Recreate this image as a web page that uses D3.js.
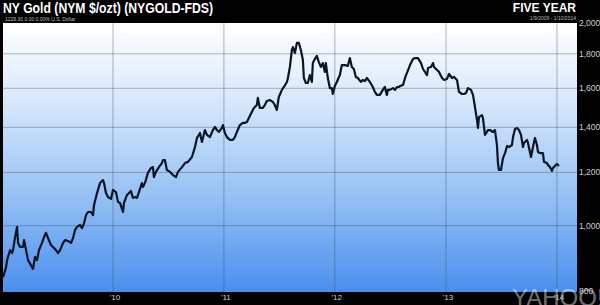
<!DOCTYPE html>
<html>
<head>
<meta charset="utf-8">
<script src="https://cdn.jsdelivr.net/npm/d3@7"></script>
<style>
  body { margin: 0; background: #000; }
  svg { display: block; }
  text { font-family: "Liberation Sans", Arial, sans-serif; }
</style>
</head>
<body>
<svg id="chart" width="600" height="305"></svg>
<script>
// Gold price, time as decimal years, price in $/ozt
const years = [
  2009.009, 2009.036, 2009.045, 2009.072, 2009.090, 2009.099, 2009.117, 2009.135, 2009.144, 2009.162,
  2009.189, 2009.198, 2009.216, 2009.234, 2009.270, 2009.279, 2009.297, 2009.315, 2009.333, 2009.360,
  2009.378, 2009.396, 2009.414, 2009.441, 2009.459, 2009.486, 2009.505, 2009.523, 2009.550, 2009.568,
  2009.595, 2009.622, 2009.640, 2009.658, 2009.676, 2009.703, 2009.721, 2009.739, 2009.757, 2009.775,
  2009.802, 2009.820, 2009.829, 2009.856, 2009.883, 2009.910, 2009.919, 2009.937, 2009.955, 2009.982,
  2010.000, 2010.027, 2010.045, 2010.063, 2010.090, 2010.099, 2010.126, 2010.144, 2010.162, 2010.180,
  2010.198, 2010.216, 2010.234, 2010.261, 2010.270, 2010.288, 2010.315, 2010.342, 2010.360, 2010.369,
  2010.387, 2010.414, 2010.441, 2010.450, 2010.468, 2010.486, 2010.514, 2010.541, 2010.568, 2010.586,
  2010.622, 2010.649, 2010.676, 2010.712, 2010.739, 2010.757, 2010.775, 2010.784, 2010.802, 2010.811,
  2010.829, 2010.847, 2010.874, 2010.901, 2010.919, 2010.937, 2010.955, 2010.982, 2010.991, 2011.009,
  2011.027, 2011.054, 2011.081, 2011.099, 2011.117, 2011.144, 2011.171, 2011.189, 2011.207, 2011.225,
  2011.252, 2011.270, 2011.297, 2011.306, 2011.324, 2011.351, 2011.369, 2011.387, 2011.414, 2011.441,
  2011.459, 2011.477, 2011.495, 2011.523, 2011.541, 2011.568, 2011.577, 2011.595, 2011.613, 2011.622,
  2011.640, 2011.658, 2011.676, 2011.694, 2011.712, 2011.721, 2011.739, 2011.757, 2011.775, 2011.793,
  2011.802, 2011.820, 2011.838, 2011.856, 2011.874, 2011.892, 2011.910, 2011.919, 2011.937, 2011.955,
  2011.973, 2011.982, 2012.000, 2012.018, 2012.045, 2012.063, 2012.090, 2012.117, 2012.135, 2012.153,
  2012.171, 2012.189, 2012.207, 2012.234, 2012.252, 2012.270, 2012.288, 2012.315, 2012.342, 2012.360,
  2012.378, 2012.405, 2012.432, 2012.450, 2012.468, 2012.477, 2012.495, 2012.523, 2012.541, 2012.559,
  2012.577, 2012.586, 2012.613, 2012.640, 2012.649, 2012.676, 2012.703, 2012.721, 2012.748, 2012.775,
  2012.793, 2012.829, 2012.838, 2012.865, 2012.883, 2012.892, 2012.919, 2012.937, 2012.964, 2012.982,
  2013.009, 2013.027, 2013.054, 2013.072, 2013.099, 2013.117, 2013.144, 2013.162, 2013.180, 2013.198,
  2013.225, 2013.243, 2013.261, 2013.279, 2013.288, 2013.297, 2013.324, 2013.333, 2013.351, 2013.369,
  2013.378, 2013.396, 2013.423, 2013.441, 2013.459, 2013.468, 2013.477, 2013.495, 2013.514, 2013.532,
  2013.550, 2013.568, 2013.595, 2013.604, 2013.622, 2013.640, 2013.658, 2013.676, 2013.694, 2013.703,
  2013.730, 2013.739, 2013.766, 2013.784, 2013.802, 2013.820, 2013.829, 2013.847, 2013.874, 2013.883,
  2013.910, 2013.919, 2013.937, 2013.955, 2013.964, 2013.982, 2014.000, 2014.018
];
const prices = [
  839, 868, 889, 920, 911, 920, 962, 996, 943, 930,
  930, 952, 920, 889, 868, 863, 899, 889, 920, 943,
  962, 976, 959, 936, 930, 920, 911, 920, 943, 952,
  949, 943, 959, 986, 996, 1003, 992, 1009, 1037, 1048,
  1048, 1037, 1074, 1118, 1157, 1169, 1157, 1118, 1103, 1096,
  1130, 1122, 1085, 1081, 1048, 1081, 1111, 1118, 1126, 1100,
  1103, 1100, 1122, 1157, 1142, 1157, 1198, 1218, 1222, 1181,
  1202, 1222, 1239, 1252, 1252, 1210, 1202, 1189, 1181, 1202,
  1222, 1239, 1244, 1265, 1309, 1350, 1364, 1373, 1332, 1350,
  1387, 1364, 1354, 1387, 1402, 1387, 1378, 1397, 1411, 1373,
  1354, 1341, 1341, 1354, 1378, 1411, 1421, 1421, 1426, 1445,
  1475, 1496, 1511, 1548, 1496, 1496, 1511, 1532, 1537, 1527,
  1511, 1485, 1553, 1591, 1607, 1635, 1657, 1721, 1824, 1842,
  1805, 1868, 1868, 1824, 1762, 1657, 1629, 1629, 1674, 1635,
  1744, 1768, 1787, 1750, 1721, 1744, 1692, 1744, 1657, 1601,
  1601, 1569, 1612, 1635, 1674, 1732, 1732, 1727, 1774, 1721,
  1709, 1663, 1657, 1635, 1646, 1640, 1657, 1635, 1607, 1580,
  1564, 1564, 1591, 1607, 1564, 1591, 1591, 1601, 1591, 1607,
  1607, 1612, 1618, 1674, 1686, 1732, 1768, 1774, 1774, 1744,
  1709, 1674, 1715, 1721, 1744, 1721, 1703, 1692, 1657, 1646,
  1652, 1680, 1657, 1663, 1646, 1580, 1569, 1569, 1574, 1601,
  1591, 1564, 1501, 1436, 1397, 1450, 1460, 1445, 1364, 1378,
  1387, 1387, 1378, 1387, 1318, 1239, 1210, 1210, 1261, 1282,
  1313, 1309, 1318, 1354, 1392, 1397, 1387, 1364, 1309, 1327,
  1341, 1327, 1265, 1309, 1350, 1318, 1287, 1282, 1282, 1244,
  1239, 1231, 1222, 1206, 1218, 1227, 1235, 1227
];
const yTicks = [800, 1000, 1200, 1400, 1600, 1800, 2000];
const xTickYears = [2010, 2011, 2012, 2013, 2014];

const svg = d3.select("#chart");

// decimal year -> Date
function yearToDate(y) {
    const yr = Math.floor(y);
    const start = new Date(yr, 0, 1), end = new Date(yr + 1, 0, 1);
    return new Date(+start + (y - yr) * (end - start));
}

const data = years.map((y, i) => ({ date: yearToDate(y), price: prices[i] }));

const plot = { left: 3, right: 577, top: 23, bottom: 292 };

const x = d3.scaleTime()
    .domain([new Date(2009, 0, 4), new Date(2014, 2, 8)])
    .range([plot.left, plot.right]);

const y = d3.scaleLog()
    .domain([800, 2000])
    .range([291, 23]);

// background gradient
const grad = svg.append("defs").append("linearGradient")
    .attr("id", "bg").attr("x1", 0).attr("y1", 0).attr("x2", 0).attr("y2", 1);
grad.append("stop").attr("offset", "0%").attr("stop-color", "#ffffff");
grad.append("stop").attr("offset", "30%").attr("stop-color", "#d6e7fb");
grad.append("stop").attr("offset", "65%").attr("stop-color", "#94c0f4");
grad.append("stop").attr("offset", "100%").attr("stop-color", "#4a8fee");

svg.append("rect")
    .attr("x", plot.left).attr("y", plot.top)
    .attr("width", plot.right - plot.left).attr("height", plot.bottom - plot.top)
    .attr("fill", "url(#bg)");

// grid lines
svg.append("g")
    .selectAll("line")
    .data(yTicks.filter(d => d > 800 && d < 2000))
    .enter().append("line")
    .attr("x1", plot.left).attr("x2", plot.right)
    .attr("y1", d => y(d)).attr("y2", d => y(d))
    .attr("stroke", "rgba(60,75,100,0.4)")
    .attr("stroke-width", 1);

svg.append("g")
    .selectAll("line")
    .data(xTickYears)
    .enter().append("line")
    .attr("x1", d => x(new Date(d, 0, 1))).attr("x2", d => x(new Date(d, 0, 1)))
    .attr("y1", plot.top).attr("y2", plot.bottom)
    .attr("stroke", "rgba(60,75,100,0.4)")
    .attr("stroke-width", 1);

// price line
const line = d3.line()
    .x(d => x(d.date))
    .y(d => y(d.price));

svg.append("path")
    .datum(data)
    .attr("fill", "none")
    .attr("stroke", "#0b1424")
    .attr("stroke-width", 2.2)
    .attr("stroke-linejoin", "round")
    .attr("d", line);

// yahoo watermark
svg.append("text")
    .attr("x", 512).attr("y", 306)
    .attr("font-size", 24)
    .attr("font-weight", 300)
    .attr("fill", "rgba(255,255,255,0.45)")
    .attr("font-family", "'Open Sans', sans-serif")
    .text("YAHOO!");

// y axis labels
svg.append("g")
    .selectAll("text")
    .data(yTicks)
    .enter().append("text")
    .attr("x", 579)
    .attr("y", d => y(d))
    .attr("dy", "0.35em")
    .attr("font-size", 8.5)
    .attr("fill", "#d0d0d0")
    .text(d => d3.format(",")(d));

// x axis labels
svg.append("g")
    .selectAll("text")
    .data(xTickYears)
    .enter().append("text")
    .attr("x", d => x(new Date(d, 0, 1)) + 2)
    .attr("y", 300)
    .attr("text-anchor", "middle")
    .attr("font-size", 8)
    .attr("fill", "#d0d0d0")
    .text(d => d3.timeFormat("'%y")(new Date(d, 0, 1)));

// header
svg.append("text")
    .attr("x", 3).attr("y", 13)
    .attr("font-size", 14).attr("font-weight", "bold")
    .attr("fill", "#fff")
    .attr("textLength", 210).attr("lengthAdjust", "spacingAndGlyphs")
    .text("NY Gold (NYM $/ozt) (NYGOLD-FDS)");

svg.append("text")
    .attr("x", 5).attr("y", 21)
    .attr("font-size", 5).attr("fill", "#bbb")
    .text("1229.30   0.00   0.00%   U.S. Dollar");

svg.append("text")
    .attr("x", 576).attr("y", 12)
    .attr("text-anchor", "end")
    .attr("font-size", 12).attr("font-weight", "bold")
    .attr("fill", "#fff")
    .text("FIVE YEAR");

svg.append("text")
    .attr("x", 576).attr("y", 20)
    .attr("text-anchor", "end")
    .attr("font-size", 5).attr("fill", "#bbb")
    .text("1/9/2009 - 1/10/2014");
</script>
</body>
</html>
